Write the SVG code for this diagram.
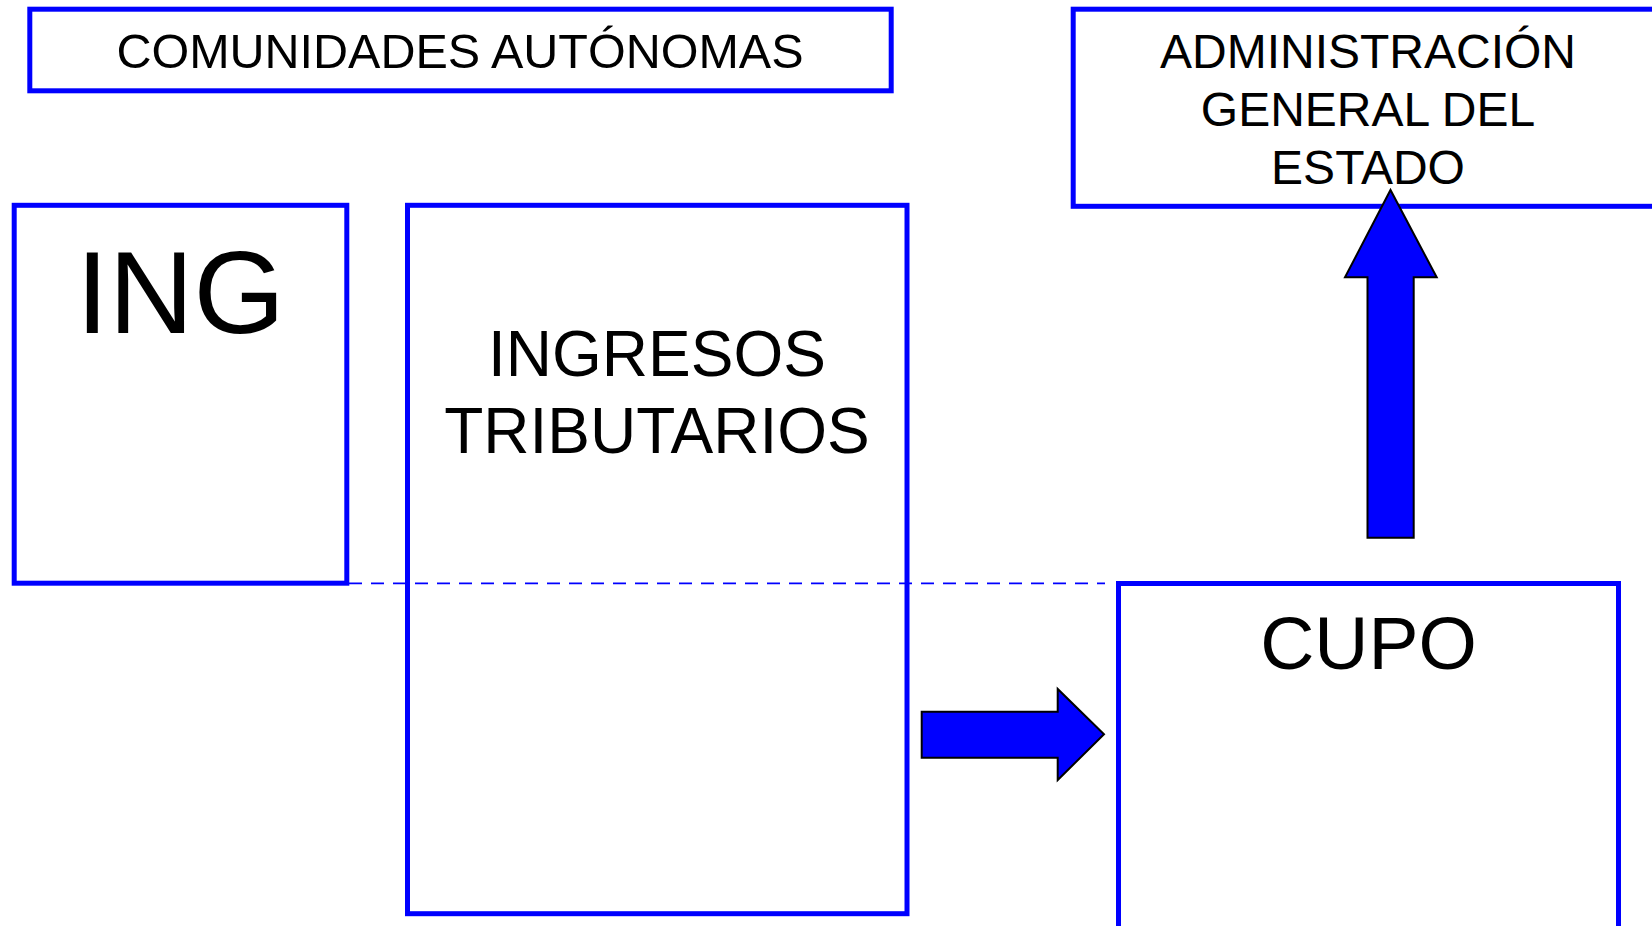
<svg xmlns="http://www.w3.org/2000/svg" width="1652" height="926" viewBox="0 0 1652 926">
<style>
.box{fill:#ffffff;stroke:#0000ff;stroke-width:5}
.t{font-family:"Liberation Sans",Arial,sans-serif;fill:#000000;text-anchor:middle}
.arr{fill:#0000ff;stroke:#000000;stroke-width:2;stroke-linejoin:miter}
.dash{stroke:#0000ff;stroke-width:1.7;stroke-dasharray:13 9;fill:none}
</style>
<rect width="1652" height="926" fill="#ffffff"/>
<g id="comunidades">
<rect class="box" x="29.8" y="9.2" width="861.4" height="81.6"/>
<text class="t" x="460" y="68.3" font-size="48.5">COMUNIDADES AUTÓNOMAS</text>
</g>
<g id="administracion">
<rect class="box" x="1073.2" y="9.2" width="600" height="197.1"/>
<text class="t" x="1368" y="68.3" font-size="48">ADMINISTRACIÓN</text>
<text class="t" x="1368" y="125.9" font-size="48">GENERAL DEL</text>
<text class="t" x="1368" y="183.5" font-size="48">ESTADO</text>
</g>
<g id="ing">
<rect class="box" x="14.2" y="205.3" width="332.6" height="377.9"/>
<text class="t" x="180.5" y="333.3" font-size="117.5">ING</text>
</g>
<g id="ingresos">
<rect class="box" x="407.5" y="205.3" width="499.5" height="708.4"/>
<text class="t" x="657" y="376.3" font-size="64">INGRESOS</text>
<text class="t" x="657" y="452.5" font-size="64">TRIBUTARIOS</text>
</g>
<g id="cupo">
<rect class="box" x="1118.5" y="583.5" width="500" height="400"/>
<text class="t" x="1368.5" y="669.3" font-size="75">CUPO</text>
</g>
<g id="connectors">
<line class="dash" x1="349" y1="583.3" x2="1105" y2="583.3"/>
<polygon class="arr" points="921.7,711.7 1057.7,711.7 1057.7,689 1104,734.3 1057.7,780 1057.7,757.7 921.7,757.7"/>
<polygon class="arr" points="1367.5,537.7 1367.5,277.3 1345,277.3 1390.5,190 1436.7,277.3 1413.7,277.3 1413.7,537.7"/>
</g>
</svg>
